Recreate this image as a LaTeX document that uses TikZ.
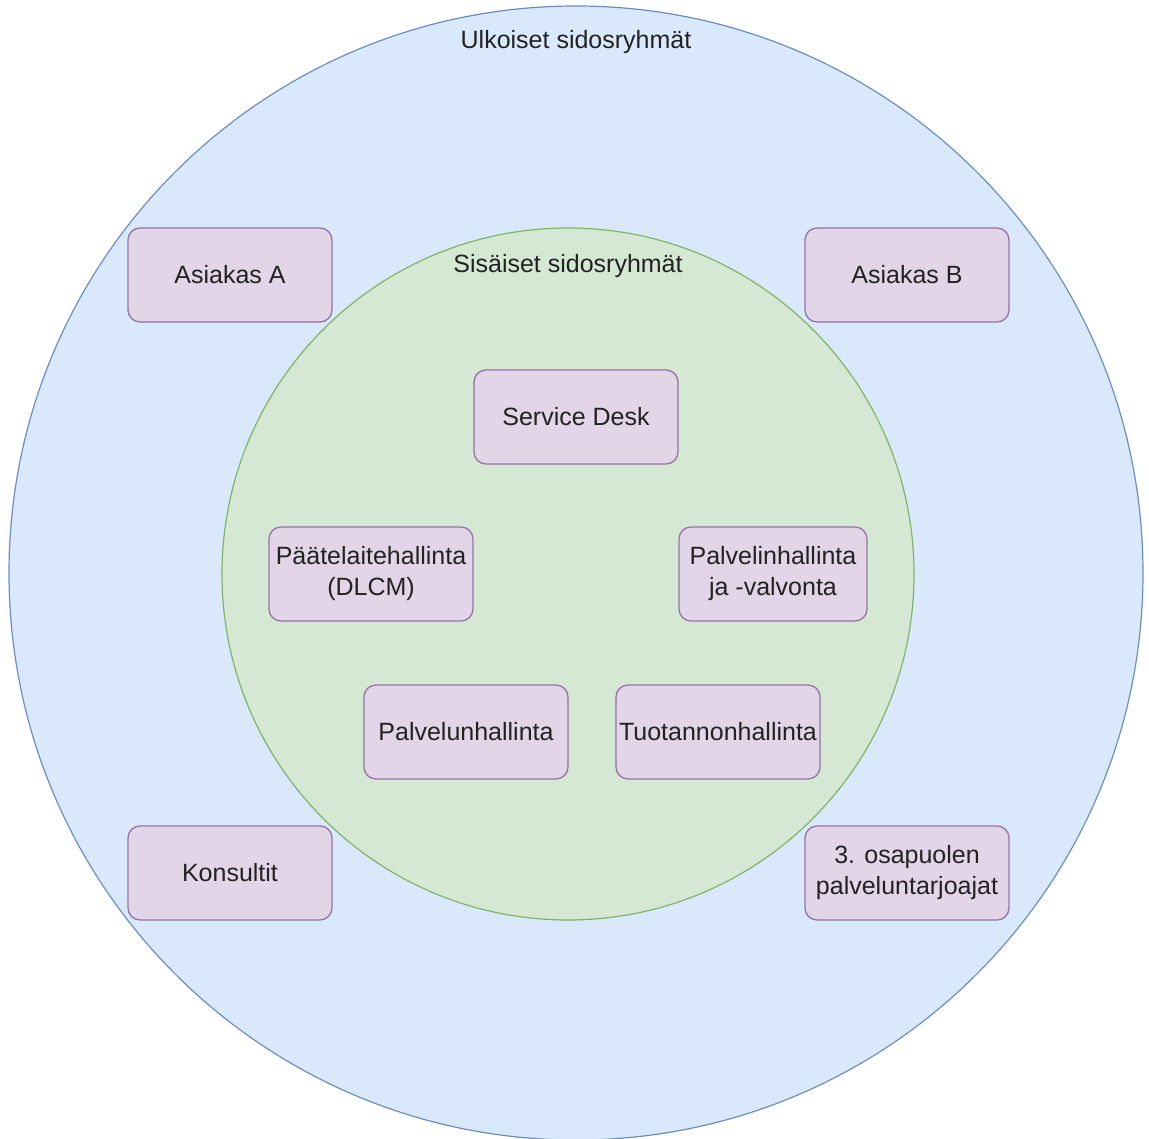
\documentclass[tikz,border=0pt]{standalone}
\usepackage{fontspec}
\setmainfont{Liberation Sans}
\usetikzlibrary{positioning}
\definecolor{outerfill}{HTML}{DAE8FC}
\definecolor{outerline}{HTML}{6C8EBF}
\definecolor{innerfill}{HTML}{D5E8D4}
\definecolor{innerline}{HTML}{82B366}
\definecolor{boxfill}{HTML}{E1D5E7}
\definecolor{boxline}{HTML}{9673A6}
\definecolor{txt}{HTML}{222222}
\begin{document}
\begin{tikzpicture}[x=1pt,y=-1pt,
    every node/.style={font=\fontsize{25}{31}\selectfont,text=txt},
    group/.style={circle,draw,line width=1.2pt,inner sep=0pt},
    actor/.style={rectangle,rounded corners=12pt,draw=boxline,fill=boxfill,
      line width=1.3pt,minimum width=204pt,minimum height=94pt,align=center,inner sep=1pt}]
       \useasboundingbox (0,0) rectangle (1149,1139);
       \node[group,draw=outerline,fill=outerfill,minimum size=1134pt] (Outer) at (576,573) {};
       \node[group,draw=innerline,fill=innerfill,minimum size=692pt] (Inner) at (568,574) {};
       \node (OuterLbl) at (576,42) {Ulkoiset sidosryhmät};
       \node (InnerLbl) at (568,266) {Sisäiset sidosryhmät};
       % ulkoiset
       \node[actor] (AsA)  at (230,275) {Asiakas A};
       \node[actor] (AsB)  at (907,275) {Asiakas B};
       \node[actor] (Kons) at (230,873) {Konsultit};
       \node[actor] (Third) at (907,873) {3. osapuolen\\palveluntarjoajat};
       % sisaiset
       \node[actor] (SDesk) at (576,417) {Service Desk};
       \node[actor] (DLCM)  at (371,574) {Päätelaitehallinta\\(DLCM)};
       \node[actor,minimum width=188pt] (Srv) at (773,574) {Palvelinhallinta\\ja -valvonta};
       \node[actor] (PHall) at (466,732) {Palvelunhallinta};
       \node[actor] (THall) at (718,732) {Tuotannonhallinta};
    \end{tikzpicture}
\end{document}
